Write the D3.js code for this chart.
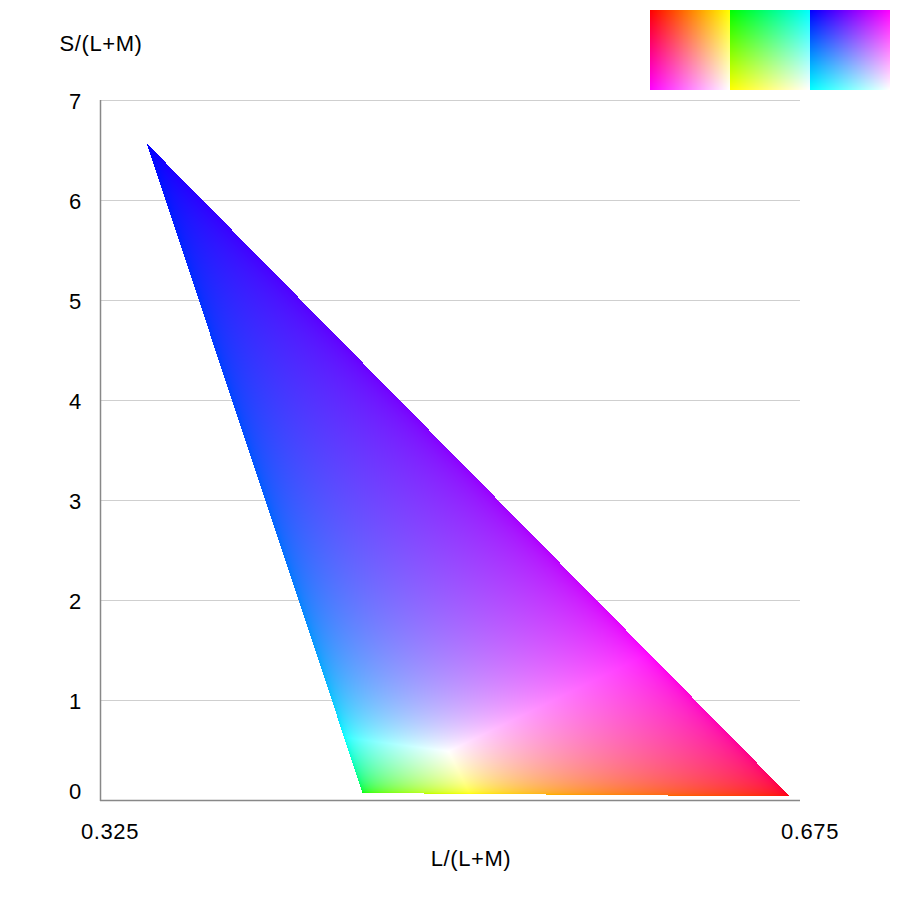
<!DOCTYPE html>
<html>
<head>
<meta charset="utf-8">
<script src="https://cdn.jsdelivr.net/npm/d3@7/dist/d3.min.js"></script>
<style>
  html, body { margin: 0; padding: 0; background: #fff; }
  svg { display: block; }
  text { font-family: "Liberation Sans", Arial, sans-serif; fill: #000; letter-spacing: 0.6px; }
</style>
</head>
<body>
<svg id="chart" width="900" height="900"></svg>
<script>
// ---- data ----
const xDomain = [0.325, 0.675];
const yDomain = [0, 7];
const xTickValues = [0.325, 0.675];
const xTickLabels = ["0.325", "0.675"];
const yTickValues = [0, 1, 2, 3, 4, 5, 6, 7];
const yTickLabels = ["0", "1", "2", "3", "4", "5", "6", "7"];
const xTitle = "L/(L+M)";
const yTitle = "S/(L+M)";

// MacLeod-Boynton coordinates of the display primaries and their L+M weights
const primaryNames = ["R", "G", "B"];
const primaryL = [0.6700, 0.4563, 0.3483];
const primaryS = [0.035, 0.070, 6.567];
const primaryLum = [1.00, 2.99, 0.28];

// RGB-cube faces shown as swatches (fixed channel = 255)
const faceFixed = [0, 1, 2];
const faceAlongX = [1, 2, 0];
const faceAlongY = [2, 0, 1];

// ---- layout ----
const W = 900, H = 900;
const plot = { left: 100, right: 800, top: 100, bottom: 800 };
const x = d3.scaleLinear().domain(xDomain).range([plot.left, plot.right]);
const y = d3.scaleLinear().domain(yDomain).range([plot.bottom, plot.top]);

const svg = d3.select("#chart");

// grid lines
svg.append("g").selectAll("line").data(yTickValues.filter(v => v > 0)).join("line")
  .attr("x1", plot.left).attr("x2", plot.right)
  .attr("y1", d => y(d) + 0.5).attr("y2", d => y(d) + 0.5)
  .attr("stroke", "#cfcfcf").attr("stroke-width", 1);

// ---- triangle (gamut) rendered per pixel ----
function srgbEncode(v) {
  v = Math.max(0, Math.min(1, v));
  return v <= 0.0031308 ? 12.92 * v : 1.055 * Math.pow(v, 1 / 2.4) - 0.055;
}
const R = { l: primaryL[0], s: primaryS[0] };
const G = { l: primaryL[1], s: primaryS[1] };
const B = { l: primaryL[2], s: primaryS[2] };
const det = (G.l - R.l) * (B.s - R.s) - (B.l - R.l) * (G.s - R.s);

const pw = plot.right - plot.left, ph = plot.bottom - plot.top;
const cv = document.createElement("canvas");
cv.width = pw; cv.height = ph;
const ctx = cv.getContext("2d");
const img = ctx.createImageData(pw, ph);
for (let j = 0; j < ph; j++) {
  const s = y.invert(plot.top + j + 0.5);
  for (let i = 0; i < pw; i++) {
    const l = x.invert(plot.left + i + 0.5);
    const uG = ((l - R.l) * (B.s - R.s) - (B.l - R.l) * (s - R.s)) / det;
    const uB = ((G.l - R.l) * (s - R.s) - (l - R.l) * (G.s - R.s)) / det;
    const uR = 1 - uG - uB;
    if (uR < 0 || uG < 0 || uB < 0) continue;
    const c = [uR / primaryLum[0], uG / primaryLum[1], uB / primaryLum[2]];
    const m = Math.max(c[0], c[1], c[2]);
    const k = (j * pw + i) * 4;
    img.data[k] = Math.round(255 * srgbEncode(c[0] / m));
    img.data[k + 1] = Math.round(255 * srgbEncode(c[1] / m));
    img.data[k + 2] = Math.round(255 * srgbEncode(c[2] / m));
    img.data[k + 3] = 255;
  }
}
ctx.putImageData(img, 0, 0);
svg.append("image")
  .attr("x", plot.left).attr("y", plot.top)
  .attr("width", pw).attr("height", ph)
  .attr("href", cv.toDataURL());

// axis lines
svg.append("line")
  .attr("x1", plot.left + 0.5).attr("x2", plot.left + 0.5)
  .attr("y1", plot.top).attr("y2", plot.bottom + 1)
  .attr("stroke", "#888").attr("stroke-width", 1.5);
svg.append("line")
  .attr("x1", plot.left).attr("x2", plot.right)
  .attr("y1", plot.bottom + 0.5).attr("y2", plot.bottom + 0.5)
  .attr("stroke", "#888").attr("stroke-width", 1.5);

// tick labels
svg.append("g").selectAll("text").data(yTickValues).join("text")
  .attr("x", 75.5)
  .attr("y", d => d === 0 ? y(d) - 1 : y(d) + 9)
  .attr("text-anchor", "middle")
  .attr("font-size", 22)
  .text((d, i) => yTickLabels[i]);
svg.append("g").selectAll("text").data(xTickValues).join("text")
  .attr("x", d => x(d) + 10)
  .attr("y", 839)
  .attr("text-anchor", "middle")
  .attr("font-size", 22)
  .text((d, i) => xTickLabels[i]);

// titles
svg.append("text").attr("x", 101).attr("y", 51)
  .attr("text-anchor", "middle").attr("font-size", 22).text(yTitle);
svg.append("text").attr("x", 471).attr("y", 866)
  .attr("text-anchor", "middle").attr("font-size", 22).text(xTitle);

// ---- swatches ----
const sw = 80, swTop = 10, swLeft = 650;
faceFixed.forEach((fixed, f) => {
  const c2 = document.createElement("canvas");
  c2.width = sw; c2.height = sw;
  const g2 = c2.getContext("2d");
  const im = g2.createImageData(sw, sw);
  for (let j = 0; j < sw; j++) {
    for (let i = 0; i < sw; i++) {
      const col = [0, 0, 0];
      col[fixed] = 255;
      col[faceAlongX[f]] = Math.round(255 * i / (sw - 1));
      col[faceAlongY[f]] = Math.round(255 * j / (sw - 1));
      const k = (j * sw + i) * 4;
      im.data[k] = col[0]; im.data[k + 1] = col[1]; im.data[k + 2] = col[2]; im.data[k + 3] = 255;
    }
  }
  g2.putImageData(im, 0, 0);
  svg.append("image")
    .attr("x", swLeft + f * sw).attr("y", swTop)
    .attr("width", sw).attr("height", sw)
    .attr("href", c2.toDataURL());
});
</script>
</body>
</html>
